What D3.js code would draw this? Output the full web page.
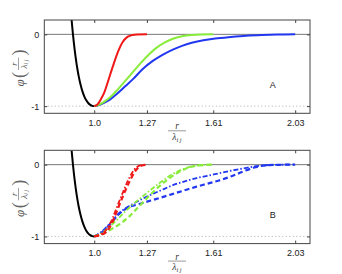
<!DOCTYPE html>
<html>
<head>
<meta charset="utf-8">
<script src="https://cdn.jsdelivr.net/npm/d3@7"></script>
<style>
  body { margin: 0; background: #fff; }
  svg text { font-family: "Liberation Sans", Arial, sans-serif; }
  .math { font-family: "Liberation Serif", "DejaVu Serif", serif; font-style: italic; }
</style>
</head>
<body>
<svg id="chart" width="342" height="274"></svg>
<script>
// tick labels
const xTicks = [1.0, 1.27, 1.61, 2.03];
const xTickLabels = ['1.0', '1.27', '1.61', '2.03'];
const yTicks = [0, -1];
const yTickLabels = ['0', '-1'];

// repulsive branch (both panels)
const blackR   = [0.884, 0.89, 0.895, 0.90, 0.905, 0.91, 0.915, 0.92, 0.93, 0.94, 0.95, 0.96, 0.97, 0.98, 0.99, 1.0];
const blackPhi = [0.20, 0.025, -0.106, -0.223, -0.327, -0.421, -0.504, -0.579, -0.702, -0.798, -0.870, -0.923, -0.960, -0.983, -0.996, -1];

// panel A
const redAR     = [1.0, 1.01, 1.02, 1.035, 1.05, 1.07, 1.095, 1.12, 1.145, 1.17, 1.195, 1.22, 1.27];
const redAPhi   = [-1, -0.99, -0.965, -0.9, -0.82, -0.66, -0.45, -0.255, -0.11, -0.035, -0.008, -0.001, 0];
const greenAR   = [1.0, 1.02, 1.05, 1.08, 1.12, 1.16, 1.20, 1.24, 1.28, 1.32, 1.36, 1.40, 1.45, 1.50, 1.55, 1.61];
const greenAPhi = [-1, -0.985, -0.94, -0.88, -0.77, -0.645, -0.52, -0.395, -0.28, -0.185, -0.115, -0.065, -0.027, -0.009, -0.002, 0];
const blueAR    = [1.0, 1.02, 1.05, 1.08, 1.12, 1.16, 1.20, 1.25, 1.30, 1.35, 1.40, 1.45, 1.50, 1.56, 1.62, 1.70, 1.78, 1.86, 1.94, 2.03];
const blueAPhi  = [-1, -0.99, -0.955, -0.91, -0.82, -0.72, -0.62, -0.48, -0.37, -0.285, -0.215, -0.16, -0.118, -0.082, -0.058, -0.036, -0.018, -0.008, -0.002, 0];

// panel B, dashed and dash-dot fits
const redDashR     = [1.0, 1.03, 1.06, 1.08, 1.10, 1.12, 1.15, 1.18, 1.21, 1.24, 1.27];
const redDashPhi   = [-1, -0.98, -0.94, -0.87, -0.76, -0.62, -0.42, -0.24, -0.09, -0.015, 0];
const redDotR      = [1.0, 1.03, 1.055, 1.075, 1.095, 1.115, 1.145, 1.175, 1.205, 1.235, 1.26];
const redDotPhi    = [-1, -0.975, -0.93, -0.85, -0.74, -0.60, -0.40, -0.21, -0.07, -0.01, 0];
const greenDashR   = [1.0, 1.04, 1.08, 1.13, 1.18, 1.23, 1.28, 1.33, 1.38, 1.43, 1.48, 1.53, 1.61];
const greenDashPhi = [-1, -0.965, -0.91, -0.83, -0.72, -0.58, -0.44, -0.31, -0.2, -0.11, -0.045, -0.012, 0];
const greenDotR    = [1.0, 1.04, 1.08, 1.12, 1.16, 1.20, 1.24, 1.29, 1.34, 1.39, 1.44, 1.49, 1.54, 1.61];
const greenDotPhi  = [-1, -0.95, -0.86, -0.76, -0.65, -0.55, -0.46, -0.35, -0.245, -0.15, -0.08, -0.03, -0.008, 0];
const blueDashR    = [1.0, 1.04, 1.08, 1.13, 1.18, 1.23, 1.29, 1.34, 1.40, 1.46, 1.52, 1.58, 1.64, 1.70, 1.76, 1.82, 1.88, 1.95, 2.03];
const blueDashPhi  = [-1, -0.94, -0.83, -0.68, -0.59, -0.55, -0.50, -0.46, -0.41, -0.36, -0.31, -0.265, -0.22, -0.165, -0.10, -0.04, -0.01, -0.002, 0];
const blueDotR     = [1.0, 1.04, 1.08, 1.13, 1.18, 1.23, 1.29, 1.34, 1.40, 1.46, 1.52, 1.58, 1.64, 1.70, 1.76, 1.82, 1.88, 1.95, 2.03];
const blueDotPhi   = [-1, -0.93, -0.82, -0.67, -0.575, -0.5, -0.42, -0.36, -0.29, -0.235, -0.19, -0.155, -0.12, -0.085, -0.055, -0.025, -0.008, -0.002, 0];

const RED = '#f01818', GREEN = '#88ec3c', BLUE = '#2238f0';

const zip = (rs, ps) => rs.map((r, i) => [r, ps[i]]);

const svg = d3.select('#chart');
const left = 44.3, right = 310, panelH = 93.3;

const x = d3.scaleLinear().domain([0.744, 2.106]).range([left, right]);

function drawPanel(top, tag, series) {
  const y = d3.scaleLinear().domain([0.2, -1.1]).range([top, top + panelH]);
  const g = svg.append('g');

  const clipId = 'clip' + tag;
  g.append('clipPath').attr('id', clipId)
    .append('rect').attr('x', left).attr('y', top).attr('width', right - left).attr('height', panelH);

  // reference lines
  g.append('line').attr('x1', left).attr('x2', right).attr('y1', y(0)).attr('y2', y(0))
    .attr('stroke', '#555').attr('stroke-width', 0.8);
  g.append('line').attr('x1', left).attr('x2', right).attr('y1', y(-1)).attr('y2', y(-1))
    .attr('stroke', '#999').attr('stroke-width', 0.8).attr('stroke-dasharray', '1,2.5');

  const line = d3.line().x(d => x(d[0])).y(d => y(d[1])).curve(d3.curveMonotoneX);
  const plot = g.append('g').attr('clip-path', `url(#${clipId})`);
  series.forEach(s => {
    plot.append('path').datum(zip(s.r, s.phi))
      .attr('d', line)
      .attr('fill', 'none')
      .attr('stroke', s.color)
      .attr('stroke-width', s.w || 2)
      .attr('stroke-dasharray', s.dash || null)
      .attr('stroke-linecap', 'butt');
  });

  // axes with inward ticks on all sides
  g.append('g').attr('transform', `translate(0,${top + panelH})`)
    .call(d3.axisBottom(x).tickValues(xTicks).tickSize(-3).tickPadding(6)
      .tickFormat((d, i) => xTickLabels[i]));
  g.append('g').attr('transform', `translate(0,${top})`)
    .call(d3.axisTop(x).tickValues(xTicks).tickSize(-3).tickFormat(''));
  g.append('g').attr('transform', `translate(${left},0)`)
    .call(d3.axisLeft(y).tickValues(yTicks).tickSize(-3).tickPadding(5)
      .tickFormat((d, i) => yTickLabels[i]));
  g.append('g').attr('transform', `translate(${right},0)`)
    .call(d3.axisRight(y).tickValues(yTicks).tickSize(-3).tickFormat(''));
  g.selectAll('.domain').remove();
  g.selectAll('.tick line').attr('stroke', '#444');
  g.selectAll('.tick text').attr('font-size', 9).attr('fill', '#222')
    .style('font-family', '"Liberation Sans", Arial, sans-serif');

  g.append('rect').attr('x', left).attr('y', top).attr('width', right - left).attr('height', panelH)
    .attr('fill', 'none').attr('stroke', '#444').attr('stroke-width', 1);

  g.append('text').attr('x', 272.7).attr('y', top + 68).attr('text-anchor', 'middle')
    .attr('font-size', 9).attr('fill', '#222').text(tag);

  // x label  r / λij
  const xl = g.append('g').attr('transform', `translate(177,${top + panelH + 20})`);
  xl.append('text').attr('class', 'math').attr('text-anchor', 'middle').attr('y', -4)
    .attr('font-size', 9.5).attr('fill', '#333').text('r');
  xl.append('line').attr('x1', -9).attr('x2', 9).attr('y1', -2.5).attr('y2', -2.5)
    .attr('stroke', '#555').attr('stroke-width', 0.6);
  const lt = xl.append('text').attr('class', 'math').attr('text-anchor', 'middle').attr('y', 6.5)
    .attr('font-size', 9.5).attr('fill', '#333');
  lt.append('tspan').text('λ');
  lt.append('tspan').attr('font-size', 6.5).attr('dy', 2).text('i j');

  // y label  φ(r/λij), rotated
  const yl = g.append('g').attr('transform', `translate(20,${top + 48}) rotate(-90)`);
  yl.append('text').attr('class', 'math').attr('x', -15).attr('y', 3.5).attr('text-anchor', 'middle')
    .attr('font-size', 13).attr('fill', '#555').text('φ');
  yl.append('text').attr('x', -7).attr('y', 5).attr('text-anchor', 'middle')
    .style('font-family', '"Liberation Serif", serif')
    .attr('font-size', 18).attr('fill', '#666').text('(');
  yl.append('text').attr('class', 'math').attr('x', 4).attr('y', -3.5).attr('text-anchor', 'middle')
    .attr('font-size', 9).attr('fill', '#555').text('r');
  yl.append('line').attr('x1', -2).attr('x2', 10.5).attr('y1', -1.5).attr('y2', -1.5)
    .attr('stroke', '#666').attr('stroke-width', 0.6);
  const yt = yl.append('text').attr('class', 'math').attr('x', 4).attr('y', 6.5).attr('text-anchor', 'middle')
    .attr('font-size', 9).attr('fill', '#555');
  yt.append('tspan').text('λ');
  yt.append('tspan').attr('font-size', 6).attr('dy', 1.5).text('i j');
  yl.append('text').attr('x', 15.5).attr('y', 5).attr('text-anchor', 'middle')
    .style('font-family', '"Liberation Serif", serif')
    .attr('font-size', 18).attr('fill', '#666').text(')');
}

const black = { r: blackR, phi: blackPhi, color: '#000', w: 2 };

drawPanel(20, 'A', [
  black,
  { r: blueAR, phi: blueAPhi, color: BLUE },
  { r: greenAR, phi: greenAPhi, color: GREEN },
  { r: redAR, phi: redAPhi, color: RED }
]);

drawPanel(150.3, 'B', [
  black,
  { r: blueDashR, phi: blueDashPhi, color: BLUE, w: 2.2, dash: '5,3' },
  { r: blueDotR, phi: blueDotPhi, color: BLUE, w: 1.8, dash: '5,2,1.5,2' },
  { r: greenDashR, phi: greenDashPhi, color: GREEN, w: 2.2, dash: '5,3' },
  { r: greenDotR, phi: greenDotPhi, color: GREEN, w: 1.8, dash: '5,2,1.5,2' },
  { r: redDashR, phi: redDashPhi, color: RED, w: 2.2, dash: '5,3' },
  { r: redDotR, phi: redDotPhi, color: RED, w: 1.8, dash: '5,2,1.5,2' }
]);
</script>
</body>
</html>
